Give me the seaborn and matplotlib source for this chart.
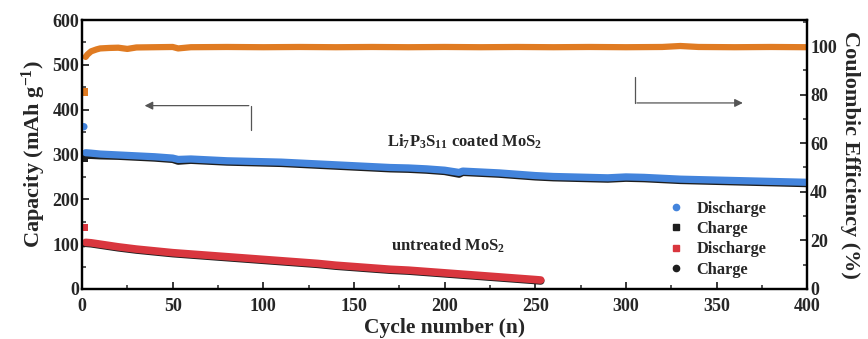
import matplotlib
matplotlib.use("Agg")
import matplotlib.pyplot as plt
from matplotlib.ticker import MultipleLocator
from matplotlib.lines import Line2D
import seaborn as sns
import pandas as pd

# Li7P3S11 coated MoS2: capacity (mAh/g) vs cycle
coated_cycles = [1, 2, 5, 10, 20, 30, 40, 50, 53, 60, 70, 80, 90, 100, 110, 120, 130,
                 140, 150, 160, 170, 180, 190, 200, 208, 210, 220, 230, 240, 250, 260,
                 270, 280, 290, 300, 310, 320, 330, 340, 350, 360, 370, 380, 390, 400]
coated_discharge = [362, 304, 303, 301, 299, 297, 295, 292, 289, 290, 288, 286, 285,
                    284, 283, 281, 279, 277, 275, 273, 271, 270, 268, 265, 260, 263,
                    261, 259, 256, 253, 251, 250, 249, 248, 250, 249, 247, 245, 244,
                    243, 242, 241, 240, 239, 238]
coated_charge = [292, 298, 298, 297, 296, 294, 292, 289, 285, 287, 285, 283, 282,
                 281, 280, 278, 276, 274, 272, 270, 268, 267, 265, 262, 256, 260,
                 258, 256, 253, 250, 248, 247, 246, 245, 247, 246, 244, 242, 241,
                 240, 239, 238, 237, 236, 235]

# Untreated MoS2
untreated_cycles = [1, 2, 5, 10, 20, 30, 40, 50, 60, 70, 80, 90, 100, 110, 120, 130,
                    140, 150, 160, 170, 180, 190, 200, 210, 220, 230, 240, 250, 253]
untreated_discharge = [137, 104, 103, 100, 94, 89, 85, 81, 78, 75, 72, 69, 66, 63, 60,
                       57, 53, 50, 47, 44, 42, 39, 36, 33, 30, 27, 24, 21, 20]
untreated_charge = [101, 102, 101, 98, 92, 87, 83, 79, 76, 73, 70, 67, 64, 61, 58,
                    55, 51, 48, 45, 42, 40, 37, 34, 31, 28, 25, 22, 19, 18]

# Coulombic efficiency (%)
ce_cycles = [1, 2, 3, 5, 8, 10, 15, 20, 25, 30, 40, 50, 53, 60, 80, 100, 120, 140,
             160, 180, 200, 220, 240, 260, 280, 300, 320, 330, 340, 360, 380, 400]
ce_values = [81, 95.5, 96.5, 97.8, 98.6, 99.0, 99.2, 99.3, 98.8, 99.4, 99.5, 99.6,
             99.0, 99.5, 99.6, 99.5, 99.6, 99.5, 99.6, 99.5, 99.6, 99.5, 99.6, 99.5,
             99.6, 99.5, 99.6, 100.0, 99.6, 99.5, 99.6, 99.5]

BLUE = "#4384dc"
RED = "#d9363e"
ORANGE = "#e07b22"
DARK = "#1e1e1e"
ARROW = "#555555"

sns.set_style("ticks")
plt.rcParams["font.family"] = ["Liberation Serif", "DejaVu Serif"]
plt.rcParams["font.weight"] = "bold"
plt.rcParams["mathtext.fontset"] = "custom"
plt.rcParams["mathtext.rm"] = "Liberation Serif:bold"
plt.rcParams["mathtext.it"] = "Liberation Serif:bold"
plt.rcParams["mathtext.bf"] = "Liberation Serif:bold"

fig, ax = plt.subplots(figsize=(8.68, 3.39), dpi=100)
fig.subplots_adjust(left=0.0945, right=0.930, top=0.941, bottom=0.1475)
ax2 = ax.twinx()

def band(axis, cycles, values, color, lw):
    df = pd.DataFrame({"cycle": cycles[1:], "value": values[1:]})
    sns.lineplot(data=df, x="cycle", y="value", ax=axis, color=color, lw=lw,
                 solid_capstyle="round", legend=False)

def first(axis, cycles, values, color, marker, size=28):
    df = pd.DataFrame({"cycle": cycles[:1], "value": values[:1]})
    sns.scatterplot(data=df, x="cycle", y="value", ax=axis, color=color,
                    marker=marker, s=size, edgecolor="none", legend=False)

# charge bands drawn under discharge bands
band(ax, coated_cycles, coated_charge, DARK, 5.2)
band(ax, coated_cycles, coated_discharge, BLUE, 5.2)
band(ax, untreated_cycles, untreated_charge, DARK, 5.5)
band(ax, untreated_cycles, untreated_discharge, RED, 5.5)
first(ax, coated_cycles, coated_discharge, BLUE, "o")
first(ax, coated_cycles, coated_charge, DARK, "s")
first(ax, untreated_cycles, untreated_discharge, RED, "s")
first(ax, untreated_cycles, untreated_charge, DARK, "o")

band(ax2, ce_cycles, ce_values, ORANGE, 4.5)
first(ax2, ce_cycles, ce_values, ORANGE, "s")

ax.set_xlim(0, 400)
ax.set_ylim(0, 600)
ax2.set_ylim(0, 110.7)

ax.xaxis.set_major_locator(MultipleLocator(50))
ax.xaxis.set_minor_locator(MultipleLocator(25))
ax.yaxis.set_major_locator(MultipleLocator(100))
ax.yaxis.set_minor_locator(MultipleLocator(50))
ax2.yaxis.set_major_locator(MultipleLocator(20))
ax2.yaxis.set_minor_locator(MultipleLocator(10))

for a in (ax, ax2):
    a.tick_params(which="major", direction="in", length=5, width=1.3, labelsize=13)
    a.tick_params(which="minor", direction="in", length=3, width=1.1)
    for s in a.spines.values():
        s.set_linewidth(1.6)
        s.set_color("black")
ax.tick_params(axis="x", pad=6.5)
ax.tick_params(axis="y", pad=2)
ax2.tick_params(axis="y", pad=2)

for lab in ax.get_xticklabels() + ax.get_yticklabels() + ax2.get_yticklabels():
    lab.set_fontweight("bold")

ax.set_xlabel("Cycle number (n)", fontsize=15.5, fontweight="bold", labelpad=2)
ax.set_ylabel(r"Capacity (mAh g$^{-1}$)", fontsize=16, fontweight="bold", labelpad=3)
ax2.set_ylabel("Coulombic Efficiency (%)", fontsize=16, fontweight="bold",
               rotation=270, labelpad=17)

ax.text(211, 328, r"Li$_7$P$_3$S$_{11}$ coated MoS$_2$", ha="center", va="center",
        fontsize=12, fontweight="bold")
ax.text(202, 96, r"untreated MoS$_2$", ha="center", va="center",
        fontsize=12, fontweight="bold")

# pointer arrows to each axis
ax.plot([93, 93], [355, 409], color=ARROW, lw=0.9)
ax.annotate("", xy=(33, 409), xytext=(93.5, 409),
            arrowprops=dict(arrowstyle="-|>", color=ARROW, lw=0.9,
                            mutation_scale=12))
ax.plot([305, 305], [472, 415], color=ARROW, lw=0.9)
ax.annotate("", xy=(366, 415), xytext=(304.5, 415),
            arrowprops=dict(arrowstyle="-|>", color=ARROW, lw=0.9,
                            mutation_scale=12))

handles = [
    Line2D([], [], ls="none", marker="o", color=BLUE, markersize=4.5),
    Line2D([], [], ls="none", marker="s", color=DARK, markersize=4.5),
    Line2D([], [], ls="none", marker="s", color=RED, markersize=4.5),
    Line2D([], [], ls="none", marker="o", color=DARK, markersize=4.5),
]
labels = ["Discharge", "Charge", "Discharge", "Charge"]
ax.legend(handles, labels, loc="lower right", bbox_to_anchor=(0.964, -0.013),
          frameon=False, handlelength=1.0, handletextpad=0.73, borderpad=0.4,
          labelspacing=0.26, prop={"weight": "bold", "size": 11.8})

ax.set_zorder(ax2.get_zorder() + 1)
ax.patch.set_visible(False)

fig.savefig("out.png", dpi=100)
